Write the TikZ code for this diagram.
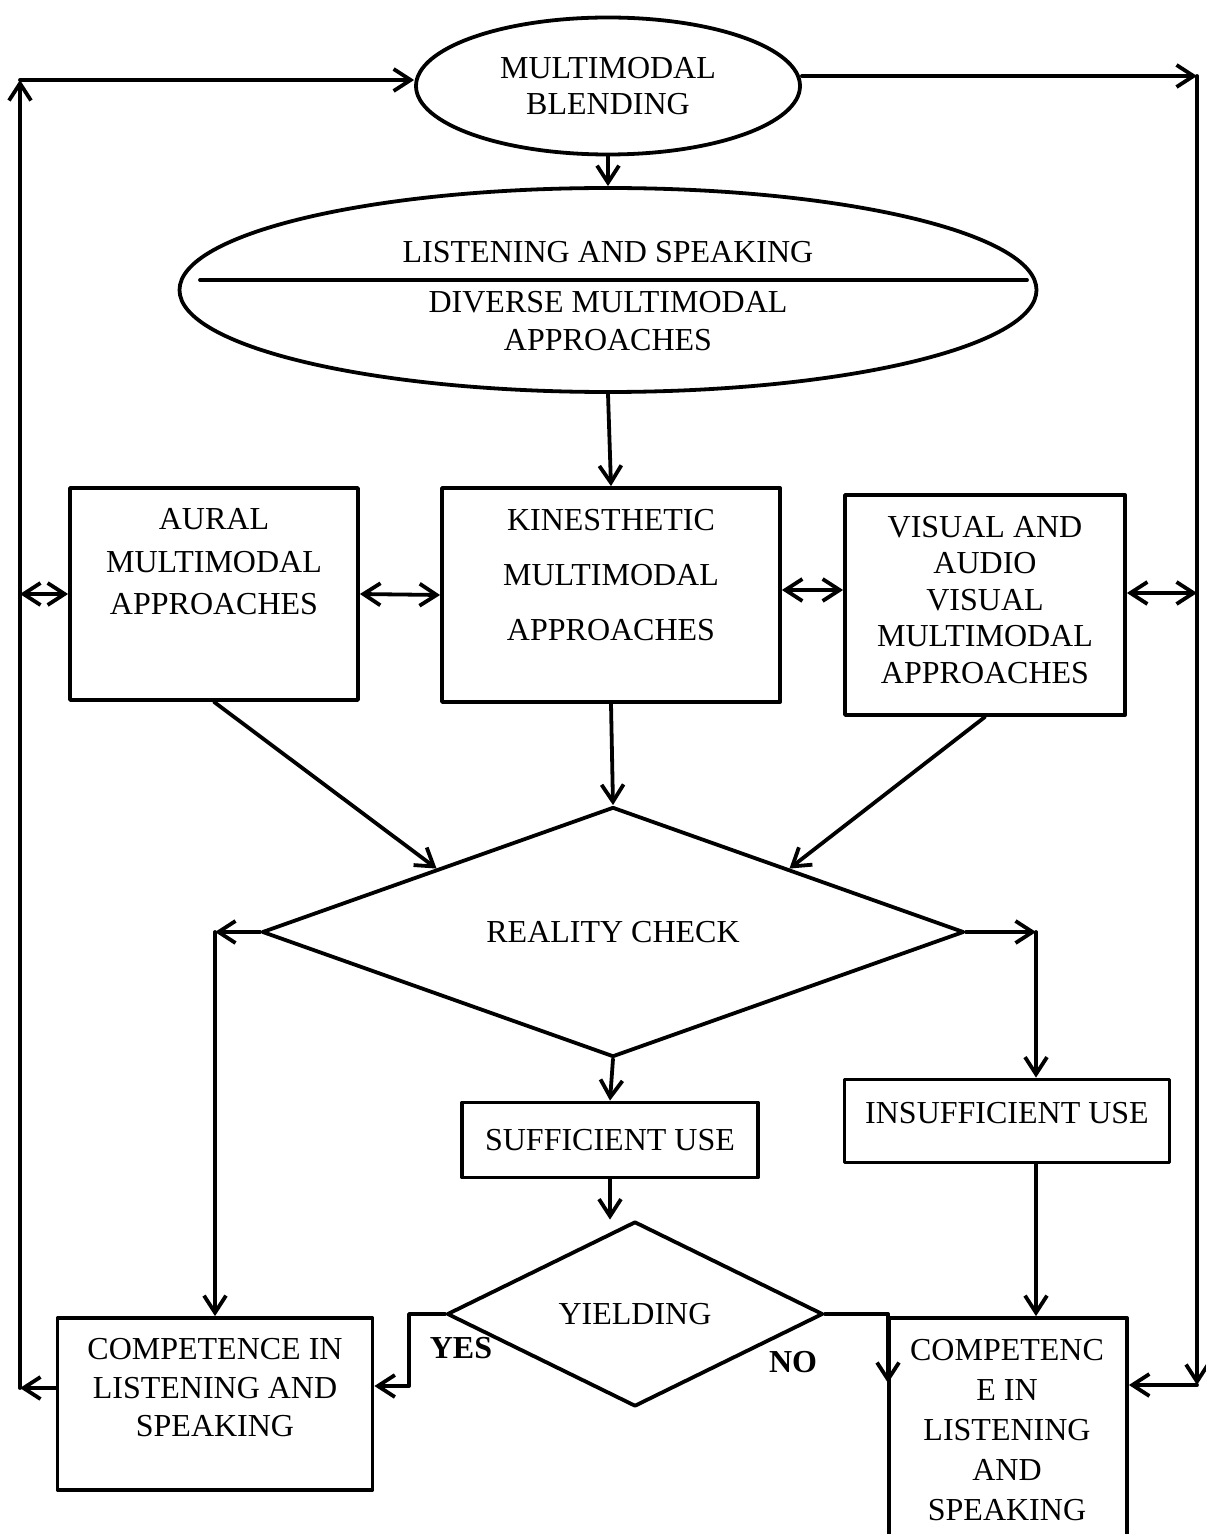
\documentclass[tikz,border=0pt]{standalone}
\usepackage{fontspec}
\setmainfont{Liberation Serif}
\usetikzlibrary{arrows.meta,shapes.geometric}

\begin{document}
\begin{tikzpicture}[
  x=0.5pt,
  y=-0.5pt,
  line width=1.9pt,
  line cap=round,
  line join=round,
  >={Straight Barb[length=8.5pt,width=11pt]},
  every node/.style={font=\fontsize{16pt}{19pt}\selectfont},
  box/.style={draw, rectangle, inner sep=0pt},
  oval/.style={draw, ellipse, inner sep=0pt, align=center},
  decide/.style={draw, diamond, inner sep=0pt, aspect=3},
  txt/.style={align=center, inner sep=0pt, font=\fontsize{16pt}{#1}\selectfont},
  txt/.default=19pt,
  answer/.style={inner sep=0pt, font=\fontsize{16pt}{19pt}\selectfont\bfseries}
]
  \useasboundingbox (0,0) rectangle (1205,1534);

  % Ellipses
  \node[oval, minimum width=192pt, minimum height=68.5pt,
    font=\fontsize{16pt}{18pt}\selectfont] (blend) at (608,86)
    {MULTIMODAL\\BLENDING};
  \node[oval, minimum width=428.5pt, minimum height=102pt] (listen) at (608,290) {};
  \node[txt] (listenA) at (608,252) {LISTENING AND SPEAKING};
  \node[txt] (listenB) at (608,321) {DIVERSE MULTIMODAL\\APPROACHES};
  \draw (200,280) -- (1027,280);

  % Approaches
  \node[box, minimum width=144pt, minimum height=106pt] (aural) at (214,594) {};
  \node[txt=21.25pt] (auraltxt) at (214,562) {AURAL\\MULTIMODAL\\APPROACHES};
  \node[box, minimum width=169pt, minimum height=107pt] (kin) at (611,595) {};
  \node[txt=27.5pt] (kintxt) at (611,575) {KINESTHETIC\\MULTIMODAL\\APPROACHES};
  \node[box, minimum width=140pt, minimum height=110pt] (vis) at (985,605) {};
  \node[txt=18.25pt] (vistxt) at (985,600)
    {VISUAL AND\\AUDIO\\VISUAL\\MULTIMODAL\\APPROACHES};

  % Checks
  \node[decide, minimum width=351pt, minimum height=125pt] (real) at (613,932)
    {REALITY CHECK};
  \node[box, minimum width=148pt, minimum height=37.5pt] (suff) at (610,1140)
    {SUFFICIENT USE};
  \node[box, minimum width=162.5pt, minimum height=41.5pt] (insuff) at (1007,1121) {};
  \node[txt] (insufftxt) at (1007,1113) {INSUFFICIENT USE};
  \node[decide, minimum width=188pt, minimum height=92.5pt] (yield) at (635,1314)
    {YIELDING};

  % Competence
  \node[box, minimum width=157.5pt, minimum height=86pt] (compL) at (215,1404) {};
  \node[txt=19.25pt] (compLtxt) at (215,1388)
    {COMPETENCE IN\\LISTENING AND\\SPEAKING};
  \node[box, minimum width=119pt, minimum height=126pt] (compR) at (1008,1444) {};
  \node[txt=20pt] (compRtxt) at (1007,1430)
    {COMPETENC\\E IN\\LISTENING\\AND\\SPEAKING};

  \node[answer] (yes) at (461,1348) {YES};
  \node[answer] (no) at (793,1362) {NO};

  % Corners of the rails
  \coordinate (lt) at (20,80);
  \coordinate (lb) at (20,1388);
  \coordinate (rt) at (1197,76);
  \coordinate (rb) at (1197,1385);
  \coordinate (rr) at (1036,932);
  \coordinate (yb) at (409,1386);
  \coordinate (nb) at (888,1383);
  \coordinate (kinr) at ([yshift=2.5pt]kin.east);
  \coordinate (visr) at ([yshift=6pt]vis.east);

  % Left rail
  \draw[->] (compL.west |- lb) -- (lb);
  \draw[->] (lb) -- (lt);
  \draw[->] (lt) -- (blend.west |- lt);
  \draw[<->] (lt |- aural.west) -- (aural.west);

  % Right rail
  \draw[->] (blend.east |- rt) -- (rt);
  \draw[->] (rt) -- (rb);
  \draw[->] (rb) -- (rb -| compR.east);
  \draw[<->] (visr) -- (visr -| rt);

  % Main flow
  \draw[->] (blend.south) -- (listen.north);
  \draw[->] (listen.south) -- (kin.north);
  \draw[<->] (aural.east) -- (kin.west);
  \draw[<->] (kinr) -- (kinr -| vis.west);
  \draw[->] (aural.south) -- (real.north west);
  \draw[->] (kin.south) -- (real.north);
  \draw[->] (vis.south) -- (real.north east);

  % Reality check
  \draw[->] (real.west) -- (real.west -| compL.north);
  \draw[->] (real.west -| compL.north) -- (compL.north);
  \draw[->] (real.east) -- (rr);
  \draw[->] (rr) -- (rr |- insuff.north);
  \draw[->] (real.south) -- (suff.north);
  \draw[->] (suff.south) -- (suff.south |- yield.north);
  \draw[->] (rr |- insuff.south) -- (rr |- compR.north);

  % Yielding
  \draw[->] (yield.west) -| (yb) -- (yb -| compL.east);
  \draw[->] (yield.east) -| (nb);
\end{tikzpicture}
\end{document}
